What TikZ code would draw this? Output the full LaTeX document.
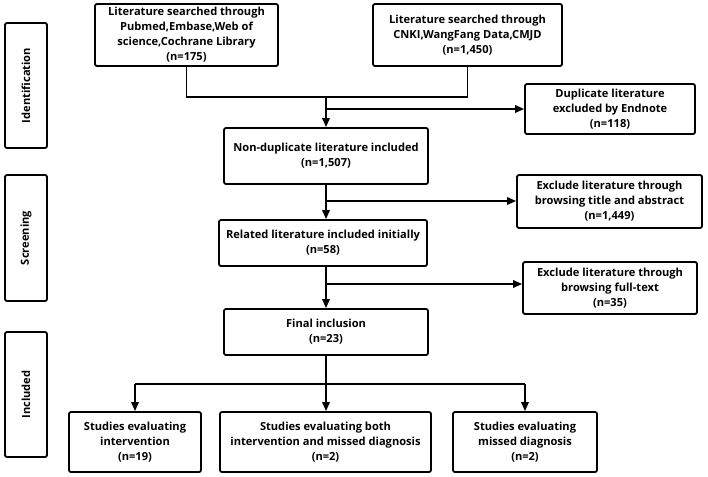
\documentclass[tikz,border=0pt]{standalone}
\usepackage{fontspec}
\setmainfont{Open Sans}
\usetikzlibrary{arrows.meta}
\tikzset{
  lab/.style={font=\fontsize{11.1}{15}\selectfont\bfseries},
  box/.style={draw, line width=1.8pt, rounded corners=2pt, align=center, inner sep=0pt, lab},
  side/.style={box, minimum width=42pt, minimum height=125pt},
  conn/.style={line width=1.7pt},
  arr/.style={conn, -{Triangle[length=9pt,width=7.5pt]}}
}
\begin{document}
\begin{tikzpicture}[x=1pt,y=-1pt]
\useasboundingbox[fill=white] (0,0) rectangle (708,476);
% stage labels
\node[side] (ident) at (26,85.5) {};
\node[rotate=90, lab] (identt) at (ident.center) {Identification};
\node[side, minimum height=126pt] (scr) at (26,238) {};
\node[rotate=90, lab] (scrt) at (scr.center) {Screening};
\node[side] (incl) at (26,394.5) {};
\node[rotate=90, lab] (inclt) at (incl.center) {Included};
% boxes
\node[box, minimum width=183pt, minimum height=62pt] (src1) at (186.5,35)
  {Literature searched through\\Pubmed,Embase,Web of\\science,Cochrane Library\\(n=175)};
\node[box, minimum width=189pt, minimum height=62pt] (src2) at (467.5,35)
  {Literature searched through\\CNKI,WangFang Data,CMJD\\(n=1,450)};
\node[box, minimum width=170pt, minimum height=50pt] (dup) at (610,109)
  {Duplicate literature\\excluded by Endnote\\(n=118)};
\node[box, minimum width=204pt, minimum height=56pt] (nondup) at (326,156)
  {Non-duplicate literature included\\(n=1,507)};
\node[box, minimum width=185pt, minimum height=53pt] (ex1) at (609.5,201.5)
  {Exclude literature through\\browsing title and abstract\\(n=1,449)};
\node[box, minimum width=208pt, minimum height=46pt] (rel) at (323,243)
  {Related literature included initially\\(n=58)};
\node[box, minimum width=174pt, minimum height=52pt] (ex2) at (610,288)
  {Exclude literature through\\browsing full-text\\(n=35)};
\node[box, minimum width=204pt, minimum height=46pt] (final) at (326,332)
  {Final inclusion\\(n=23)};
\node[box, minimum width=132pt, minimum height=60pt] (b1) at (135,442)
  {Studies evaluating\\intervention\\(n=19)};
\node[box, minimum width=211pt, minimum height=60pt] (b2) at (325.5,442)
  {Studies evaluating both\\intervention and missed diagnosis\\(n=2)};
\node[box, minimum width=144pt, minimum height=60pt] (b3) at (525,442)
  {Studies evaluating\\missed diagnosis\\(n=2)};
% junction coordinates
\coordinate (j0) at (326,97);
\coordinate (j1) at (326,109);
\coordinate (j2) at (326,201);
\coordinate (j3) at (326,284);
\coordinate (j4) at (326,384);
% connectors
\draw[conn] (src1.south) -- (src1.south |- j0) -- (src2.south |- j0) -- (src2.south);
\draw[arr] (j0) -- (nondup.north);
\draw[arr] (j1) -- (dup.west |- j1);
\draw[arr] (nondup.south) -- (nondup.south |- rel.north);
\draw[arr] (j2) -- (ex1.west |- j2);
\draw[arr] (final.north |- rel.south) -- (final.north);
\draw[arr] (j3) -- (ex2.west |- j3);
\draw[conn] (final.south) -- (j4);
\draw[conn] (b1.north |- j4) -- (b3.north |- j4);
\draw[arr] (b1.north |- j4) -- (b1.north);
\draw[arr] (j4) -- (j4 |- b2.north);
\draw[arr] (b3.north |- j4) -- (b3.north);
\end{tikzpicture}
\end{document}
